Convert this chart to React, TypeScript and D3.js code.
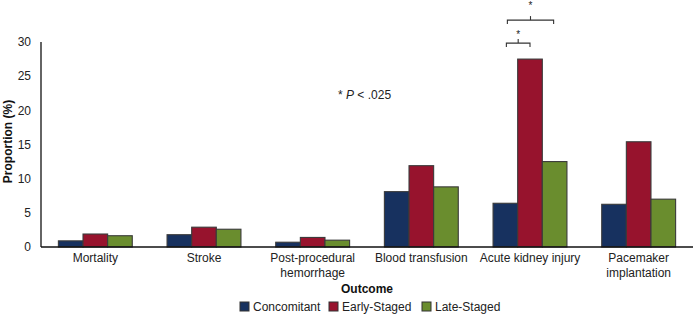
import React from "react";
import * as d3 from "d3";

const categories = [
  ["Mortality"],
  ["Stroke"],
  ["Post-procedural", "hemorrhage"],
  ["Blood transfusion"],
  ["Acute kidney injury"],
  ["Pacemaker", "implantation"],
];
const seriesNames = ["Concomitant", "Early-Staged", "Late-Staged"];
const concomitant = [0.9, 1.8, 0.7, 8.1, 6.4, 6.25];
const earlyStaged = [1.9, 2.9, 1.4, 11.9, 27.5, 15.4];
const lateStaged = [1.65, 2.6, 1.0, 8.8, 12.5, 7.0];
const yTicks = [0, 5, 10, 15, 20, 25, 30];
const colors = ["#17315f", "#97132d", "#6a8d2e"];

const W = 694;
const H = 314;
const FONT = "'Liberation Sans', Arial, Helvetica, sans-serif";

export default function App() {
  const left = 41;
  const right = 693;
  const top = 42;
  const bottom = 247;
  const series = [concomitant, earlyStaged, lateStaged];
  const idx = categories.map((_, i) => i);

  const x0 = d3.scaleBand<number>().domain(idx).range([left, right]).padding(0);
  const groupW = x0.bandwidth() * 0.68;
  const x1 = d3
    .scaleBand<number>()
    .domain([0, 1, 2])
    .range([0, groupW])
    .padding(0);
  const y = d3.scaleLinear().domain([0, 30]).range([bottom, top]);

  const gx = (i: number) => (x0(i) as number) + (x0.bandwidth() - groupW) / 2;
  const barCenter = (i: number, s: number) => gx(i) + (x1(s) as number) + x1.bandwidth() / 2;

  // significance brackets on Acute kidney injury (index 4)
  const aki = 4;
  const redTop = y(earlyStaged[aki]);
  const br1y = redTop - 16;
  const br2y = br1y - 23;
  const b1l = barCenter(aki, 0) + 1;
  const b1r = barCenter(aki, 1);
  const b2l = barCenter(aki, 0) + 2;
  const b2r = barCenter(aki, 2) - 1;

  const legendX = [240, 329, 422];

  return (
    <svg
      width={W}
      height={H}
      style={{ position: "absolute", left: 0, top: 0 }}
      fontFamily={FONT}
    >
      <rect x={0} y={0} width={W} height={H} fill="#fff" />
      {yTicks.map((t) => (
        <text
          key={t}
          x={31}
          y={y(t)}
          dy="0.35em"
          textAnchor="end"
          fontSize={12}
          fill="#222"
        >
          {t}
        </text>
      ))}
      <text
        transform={`translate(12,${(top + bottom) / 2 - 3}) rotate(-90)`}
        textAnchor="middle"
        fontSize={12}
        fontWeight="bold"
        fill="#111"
      >
        Proportion (%)
      </text>
      {idx.map((i) =>
        series.map((vals, s) => (
          <rect
            key={`${i}-${s}`}
            x={gx(i) + (x1(s) as number)}
            y={y(vals[i])}
            width={x1.bandwidth()}
            height={bottom - y(vals[i])}
            fill={colors[s]}
            stroke="#3a3a3a"
            strokeWidth={1.1}
          />
        ))
      )}
      <line x1={left} x2={left} y1={top} y2={bottom} stroke="#111" strokeWidth={1.3} />
      <line x1={left} x2={right} y1={bottom} y2={bottom} stroke="#111" strokeWidth={1.3} />
      {categories.map((lines, i) => (
        <text
          key={i}
          x={(x0(i) as number) + x0.bandwidth() / 2}
          y={262}
          textAnchor="middle"
          fontSize={12}
          fill="#222"
        >
          {lines.map((l, k) => (
            <tspan key={k} x={(x0(i) as number) + x0.bandwidth() / 2} dy={k === 0 ? 0 : 15}>
              {l}
            </tspan>
          ))}
        </text>
      ))}
      <text x={(left + right) / 2} y={293} textAnchor="middle" fontSize={12} fontWeight="bold" fill="#111">
        Outcome
      </text>
      {seriesNames.map((name, s) => (
        <g key={name}>
          <rect
            x={legendX[s]}
            y={302}
            width={9}
            height={9}
            fill={colors[s]}
            stroke="#333"
            strokeWidth={1}
          />
          <text x={legendX[s] + 13} y={311} fontSize={12} fill="#222">
            {name}
          </text>
        </g>
      ))}
      <text x={338} y={99} fontSize={12} fill="#222">
        {"* "}
        <tspan fontStyle="italic">P</tspan>
        {" < .025"}
      </text>
      <g fill="none" stroke="#333" strokeWidth={1.1}>
        <path d={`M${b1l},${br1y + 4}V${br1y}H${b1r}V${br1y + 4}`} />
        <path d={`M${(b1l + b1r) / 2},${br1y}V${br1y - 4}`} />
        <path d={`M${b2l},${br2y + 4}V${br2y}H${b2r}V${br2y + 4}`} />
        <path d={`M${(b2l + b2r) / 2},${br2y}V${br2y - 4}`} />
      </g>
      <text x={(b1l + b1r) / 2} y={br1y - 5} textAnchor="middle" fontSize={10} fill="#222">
        *
      </text>
      <text x={(b2l + b2r) / 2} y={br2y - 11} textAnchor="middle" fontSize={10} fill="#222">
        *
      </text>
    </svg>
  );
}
